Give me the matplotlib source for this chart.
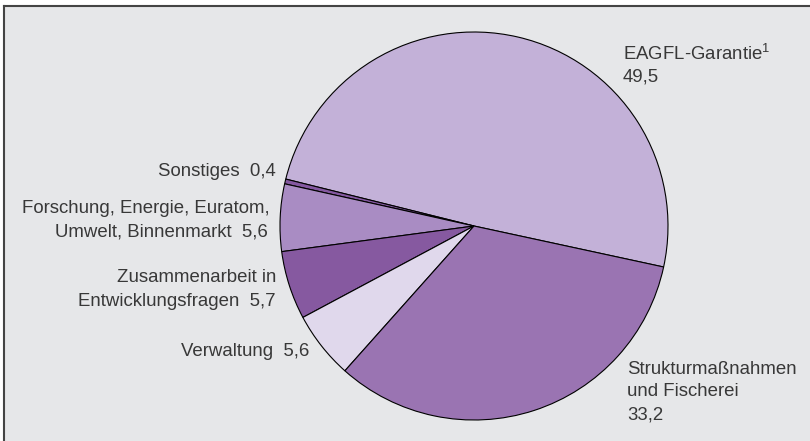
import matplotlib
matplotlib.use('Agg')
import matplotlib.pyplot as plt
from matplotlib.patches import Rectangle
from matplotlib.lines import Line2D

plt.rcParams['font.family'] = ['Liberation Sans', 'DejaVu Sans']
plt.rcParams['mathtext.fontset'] = 'custom'
plt.rcParams['mathtext.rm'] = 'Liberation Sans'

# share of budget, counterclockwise from the right
categories = ['EAGFL-Garantie', 'Sonstiges', 'Forschung, Energie, Euratom, Umwelt, Binnenmarkt',
              'Zusammenarbeit in Entwicklungsfragen', 'Verwaltung', 'Strukturmaßnahmen und Fischerei']
values = [49.5, 0.4, 5.6, 5.7, 5.6, 33.2]
colors = ['#c3b1d8', '#8458a0', '#a98cc3', '#8659a0', '#e0d8ec', '#9a74b2']
value_labels = ['49,5', '0,4', '5,6', '5,7', '5,6', '33,2']

W, H = 810, 441
fig = plt.figure(figsize=(W / 100, H / 100), dpi=100)
fig.patch.set_facecolor('white')

def fx(px):
    return px / W

def fy(py):
    return 1 - py / H

# gray panel with dark top/left edges
fig.add_artist(Rectangle((fx(4), 0), 1, fy(6), transform=fig.transFigure,
                         facecolor='#e6e7e9', edgecolor='none', zorder=0))
fig.add_artist(Line2D([fx(4), fx(4)], [0, fy(6)], transform=fig.transFigure, color='#444444', lw=1.5))
fig.add_artist(Line2D([fx(4), 1], [fy(6), fy(6)], transform=fig.transFigure, color='#444444', lw=1.5))

cx, cy, r = 474, 226, 194
ax = fig.add_axes([fx(cx - r), fy(cy + r), 2 * r / W, 2 * r / H])
ax.pie(values, colors=colors, startangle=-12.2, counterclock=True, radius=1,
       wedgeprops=dict(edgecolor='black', linewidth=0.8))
ax.set_xlim(-1, 1)
ax.set_ylim(-1, 1)
ax.set_aspect('equal')
ax.axis('off')

tc = '#383838'
fs = 13.4
fig.text(fx(623), fy(54), 'EAGFL-Garantie$^\\mathregular{1}$', ha='left', va='center', fontsize=fs, color=tc)
fig.text(fx(623), fy(77), value_labels[0], ha='left', va='center', fontsize=fs, color=tc)

fig.text(fx(276), fy(172), 'Sonstiges  ' + value_labels[1], ha='right', va='center', fontsize=fs, color=tc)
fig.text(fx(270), fy(209), 'Forschung, Energie, Euratom,', ha='right', va='center', fontsize=fs, color=tc)
fig.text(fx(268), fy(232), 'Umwelt, Binnenmarkt  ' + value_labels[2], ha='right', va='center', fontsize=fs, color=tc)
fig.text(fx(276), fy(278), 'Zusammenarbeit in', ha='right', va='center', fontsize=fs, color=tc)
fig.text(fx(276), fy(301), 'Entwicklungsfragen  ' + value_labels[3], ha='right', va='center', fontsize=fs, color=tc)
fig.text(fx(309), fy(351), 'Verwaltung  ' + value_labels[4], ha='right', va='center', fontsize=fs, color=tc)

fig.text(fx(627), fy(369), 'Strukturmaßnahmen', ha='left', va='center', fontsize=fs, color=tc)
fig.text(fx(627), fy(392), 'und Fischerei', ha='left', va='center', fontsize=fs, color=tc)
fig.text(fx(627), fy(415), value_labels[5], ha='left', va='center', fontsize=fs, color=tc)

fig.savefig('out.png', dpi=100)
